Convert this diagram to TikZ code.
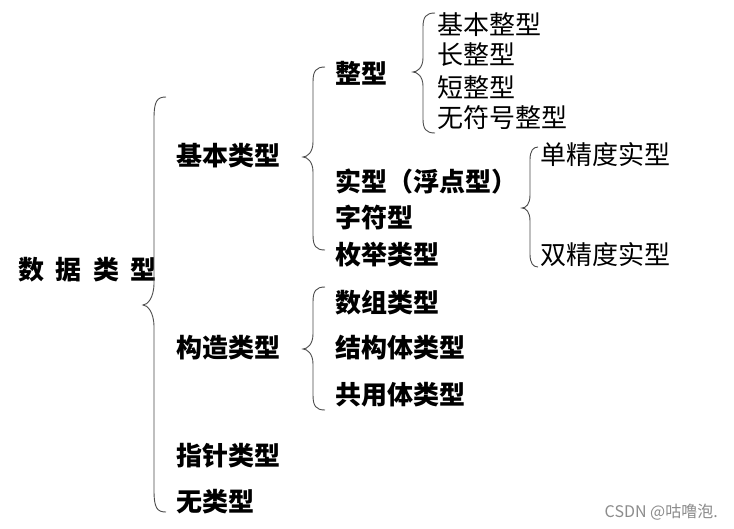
\documentclass[tikz,border=0pt]{standalone}
\usepackage{fontspec}
\newfontfamily\cjk{Noto Sans CJK SC}
\newcommand\curlybrace[7]{% xe, xs, xt, ytop, ytip, ybot, r
  \draw[bracestyle] (#1,#4) .. controls ({#2+3},#4) and (#2,{#4+4}) .. (#2,{#4+#7})
    -- (#2,{#5-#7}) .. controls (#2,{#5-0.3*#7}) and ({#3+4},#5) .. (#3,#5)
    .. controls ({#3+4},#5) and (#2,{#5+0.3*#7}) .. (#2,{#5+#7})
    -- (#2,{#6-#7}) .. controls (#2,{#6-4}) and ({#2+3},#6) .. (#1,#6);}
\begin{document}
\begin{tikzpicture}[x=1pt,y=-1pt,
  lab/.style={anchor=west, inner sep=0pt, font=\cjk\fontsize{26}{30}\selectfont},
  labb/.style={anchor=west, inner sep=0pt, font=\cjk\bfseries\fontsize{26}{30}\selectfont},
  bracestyle/.style={draw=black!70, line width=0.9pt},
  wm/.style={anchor=east, inner sep=0pt, text=black!45, font=\cjk\fontsize{16}{18}\selectfont}]
\useasboundingbox[fill=white] (0,0) rectangle (734,528);
% root
\node[labb] (root) at (18,270) {数\hspace{11.5pt}据\hspace{11.5pt}类\hspace{11.5pt}型};
% level 1
\node[labb] (jb) at (176,156) {基本类型};
\node[labb] (gz) at (176,348) {构造类型};
\node[labb] (zz) at (176,456) {指针类型};
\node[labb] (wl) at (176,502) {无类型};
% level 2
\node[labb] (zx) at (335,73) {整型};
\node[labb] (sx) at (335,182) {实型（浮点型）};
\node[labb] (zf) at (335,218) {字符型};
\node[labb] (mj) at (335,255) {枚举类型};
\node[labb] (sz) at (335,303) {数组类型};
\node[labb] (jg) at (335,348) {结构体类型};
\node[labb] (gy) at (335,395) {共用体类型};
% leaves
\node[lab] (l1) at (437,25) {基本整型};
\node[lab] (l2) at (437,55) {长整型};
\node[lab] (l3) at (437,87) {短整型};
\node[lab] (l4) at (437,118) {无符号整型};
\node[lab] (d1) at (540,155) {单精度实型};
\node[lab] (d2) at (540,255) {双精度实型};
% braces
\curlybrace{166}{154}{143}{97}{305}{512}{22}
\curlybrace{325}{313}{303}{67}{157}{250}{15}
\curlybrace{435}{423}{413}{13}{72}{133}{14}
\curlybrace{538}{530}{522}{147}{208}{267}{13}
\curlybrace{325}{313}{303}{287}{349}{410}{15}
% watermark
\node[wm] (wmk) at (718,512) {CSDN @咕噜泡.};
\end{tikzpicture}
\end{document}
